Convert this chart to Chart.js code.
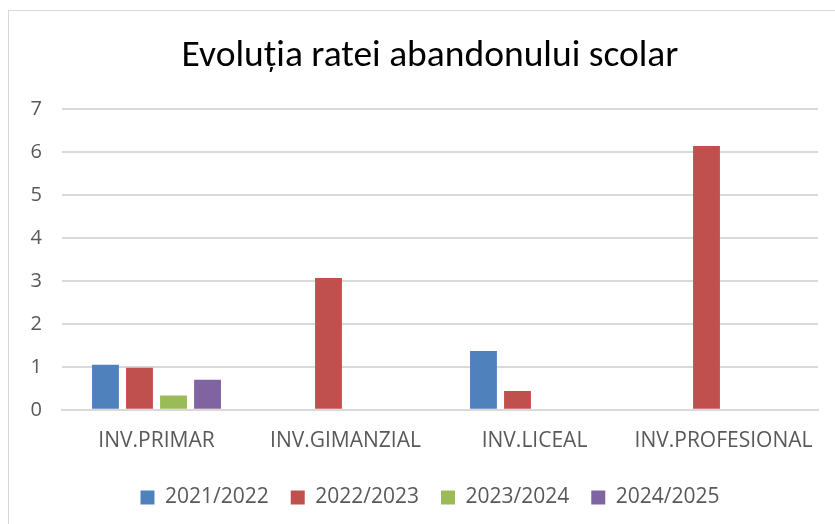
<!DOCTYPE html>
<html>
<head>
<meta charset="utf-8">
<script src="https://cdn.jsdelivr.net/npm/chart.js@4"></script>
<style>
  body { margin: 0; background: #fff; overflow: hidden; }
  .box { position: absolute; left: 8px; top: 10px; width: 844px; height: 530px; border: 1px solid #d9d9d9; box-sizing: border-box; }
  .wrap { position: absolute; left: 0; top: 0; width: 860px; height: 524px; }
</style>
</head>
<body>
<div class="box"></div>
<div class="wrap"><canvas id="myChart"></canvas></div>
<script>
const categories = ['INV.PRIMAR', 'INV.GIMANZIAL', 'INV.LICEAL', 'INV.PROFESIONAL'];
const an2122 = [1.05, null, 1.37, null];
const an2223 = [0.98, 3.07, 0.44, 6.14];
const an2324 = [0.33, null, null, null];
const an2425 = [0.70, null, null, null];
const yTicks = [0, 1, 2, 3, 4, 5, 6, 7];

const ctx = document.getElementById('myChart');
const titleFont = "Carlito, Calibri, 'Open Sans', sans-serif";
const font = "'Open Sans', sans-serif";

const bar = (label, data, color) => ({
  label: label,
  data: data,
  backgroundColor: color,
  categoryPercentage: 0.72,
  barPercentage: 0.79
});

new Chart(ctx, {
  type: 'bar',
  data: {
    labels: categories,
    datasets: [
      bar('2021/2022', an2122, '#4f81bd'),
      bar('2022/2023', an2223, '#c0504d'),
      bar('2023/2024', an2324, '#9bbb59'),
      bar('2024/2025', an2425, '#8064a2')
    ]
  },
  options: {
    responsive: true,
    maintainAspectRatio: false,
    animation: false,
    layout: { padding: { left: 8, right: 8, top: 22, bottom: 6 } },
    scales: {
      x: {
        grid: { display: false },
        border: { color: '#d9d9d9', width: 2 },
        ticks: { color: '#595959', font: { family: font, size: 21 }, padding: 11 }
      },
      y: {
        min: 0,
        max: 7,
        afterBuildTicks: axis => { axis.ticks = yTicks.map(v => ({ value: v })); },
        afterFit: axis => { axis.width = 54; },
        grid: { color: '#d9d9d9', lineWidth: 2, drawTicks: false },
        border: { display: false },
        ticks: { color: '#595959', font: { family: font, size: 20 }, padding: 20 }
      },
      // empty right gutter, keeps the title and legend centred on the full frame
      yRight: {
        position: 'right',
        afterFit: axis => { axis.width = 34; },
        grid: { display: false },
        border: { display: false },
        ticks: { display: false }
      }
    },
    plugins: {
      title: {
        display: true,
        text: 'Evoluția ratei abandonului scolar',
        color: '#000',
        font: { family: titleFont, size: 37.5, weight: 'normal' },
        padding: { top: 12, bottom: 30 }
      },
      legend: {
        position: 'bottom',
        labels: {
          color: '#595959',
          font: { family: font, size: 21 },
          boxWidth: 14,
          boxHeight: 14,
          padding: 22
        }
      },
      tooltip: { enabled: false }
    }
  }
});
</script>
</body>
</html>
